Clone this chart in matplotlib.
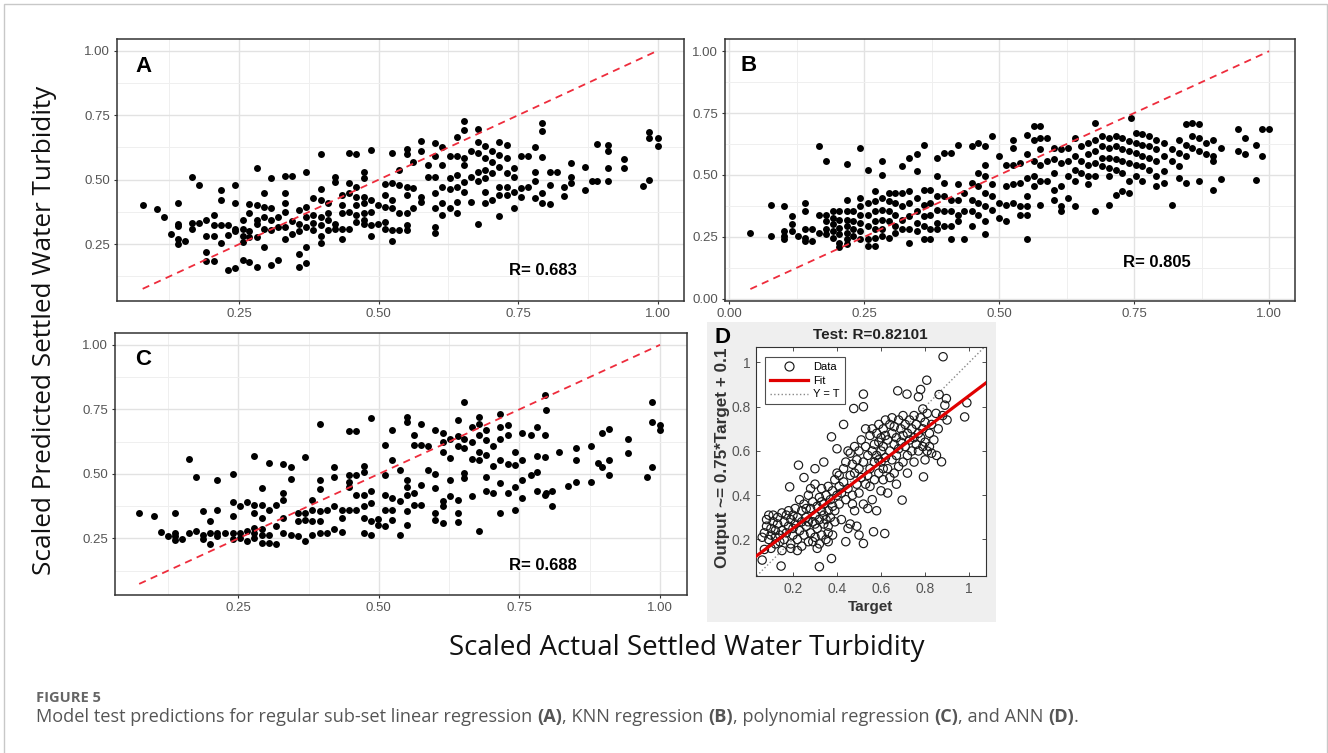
import matplotlib
matplotlib.use("Agg")
import matplotlib.pyplot as plt
import matplotlib.patches as patches
from matplotlib.lines import Line2D
import numpy as np

plt.rcParams['font.family'] = ['Liberation Sans', 'DejaVu Sans']

# ---- data ----
# panel A: regular sub-set linear regression (actual, predicted)
a_pts = [
    (0.077, 0.40), (0.102, 0.385), (0.115, 0.357), (0.128, 0.29),
    (0.14, 0.41), (0.14, 0.33), (0.14, 0.32), (0.14, 0.27), (0.14, 0.25),
    (0.153, 0.264), (0.166, 0.51), (0.166, 0.334), (0.166, 0.31),
    (0.178, 0.48), (0.178, 0.334),
    (0.19, 0.344), (0.19, 0.28), (0.19, 0.22), (0.19, 0.183),
    (0.205, 0.364), (0.205, 0.325), (0.205, 0.28), (0.205, 0.183),
    (0.218, 0.46), (0.218, 0.42), (0.218, 0.325), (0.218, 0.254),
    (0.23, 0.325), (0.23, 0.286), (0.23, 0.15),
    (0.243, 0.48), (0.243, 0.41), (0.243, 0.31), (0.243, 0.30), (0.243, 0.157),
    (0.256, 0.344), (0.256, 0.31), (0.256, 0.28), (0.256, 0.26), (0.256, 0.19),
    (0.268, 0.406), (0.268, 0.37), (0.268, 0.30), (0.268, 0.276), (0.268, 0.18),
    (0.281, 0.545), (0.281, 0.40), (0.281, 0.344), (0.281, 0.33), (0.281, 0.276), (0.281, 0.16),
    (0.294, 0.447), (0.294, 0.396), (0.294, 0.357), (0.294, 0.31), (0.294, 0.24),
    (0.307, 0.505), (0.307, 0.39), (0.307, 0.344), (0.307, 0.305), (0.307, 0.17),
    (0.32, 0.357), (0.32, 0.318), (0.32, 0.19),
    (0.332, 0.515), (0.332, 0.447), (0.332, 0.41), (0.332, 0.376), (0.332, 0.318), (0.332, 0.27),
    (0.345, 0.515), (0.345, 0.34), (0.345, 0.29),
    (0.358, 0.383), (0.358, 0.33), (0.358, 0.30), (0.358, 0.212), (0.358, 0.163),
    (0.37, 0.528), (0.37, 0.396), (0.37, 0.357), (0.37, 0.318), (0.37, 0.24), (0.37, 0.176),
    (0.383, 0.428), (0.383, 0.364), (0.383, 0.334), (0.383, 0.305),
    (0.396, 0.60), (0.396, 0.463), (0.396, 0.42), (0.396, 0.357), (0.396, 0.325), (0.396, 0.28), (0.396, 0.254),
    (0.409, 0.41), (0.409, 0.372), (0.409, 0.344), (0.409, 0.305),
    (0.422, 0.512), (0.422, 0.49), (0.422, 0.33), (0.422, 0.31),
    (0.435, 0.44), (0.435, 0.40), (0.435, 0.37), (0.435, 0.31), (0.435, 0.27),
    (0.447, 0.605), (0.447, 0.486), (0.447, 0.447), (0.447, 0.376), (0.447, 0.31),
    (0.46, 0.60), (0.46, 0.473), (0.46, 0.434), (0.46, 0.40), (0.46, 0.364), (0.46, 0.337),
    (0.473, 0.528), (0.473, 0.505), (0.473, 0.434), (0.473, 0.41), (0.473, 0.372), (0.473, 0.344), (0.473, 0.33),
    (0.486, 0.615), (0.486, 0.42), (0.486, 0.376), (0.486, 0.325), (0.486, 0.282),
    (0.498, 0.40), (0.498, 0.33),
    (0.511, 0.483), (0.511, 0.44), (0.511, 0.396), (0.511, 0.337), (0.511, 0.31),
    (0.524, 0.605), (0.524, 0.486), (0.524, 0.42), (0.524, 0.39), (0.524, 0.305), (0.524, 0.264),
    (0.537, 0.537), (0.537, 0.48), (0.537, 0.37), (0.537, 0.305),
    (0.55, 0.62), (0.55, 0.60), (0.55, 0.473), (0.55, 0.44), (0.55, 0.37), (0.55, 0.325), (0.55, 0.305),
    (0.562, 0.567), (0.562, 0.467), (0.562, 0.39),
    (0.575, 0.65), (0.575, 0.61), (0.575, 0.434), (0.575, 0.415),
    (0.588, 0.557), (0.588, 0.512),
    (0.60, 0.644), (0.60, 0.59), (0.60, 0.512), (0.60, 0.447), (0.60, 0.39), (0.60, 0.315), (0.60, 0.295),
    (0.614, 0.625), (0.614, 0.557), (0.614, 0.473), (0.614, 0.41), (0.614, 0.364),
    (0.627, 0.59), (0.627, 0.505), (0.627, 0.463), (0.627, 0.39),
    (0.64, 0.664), (0.64, 0.59), (0.64, 0.52), (0.64, 0.473), (0.64, 0.415), (0.64, 0.372),
    (0.652, 0.728), (0.652, 0.693), (0.652, 0.583), (0.652, 0.557), (0.652, 0.49), (0.652, 0.454),
    (0.665, 0.61), (0.665, 0.512), (0.665, 0.415),
    (0.678, 0.695), (0.678, 0.647), (0.678, 0.602), (0.678, 0.531), (0.678, 0.493), (0.678, 0.33),
    (0.69, 0.63), (0.69, 0.583), (0.69, 0.537), (0.69, 0.505), (0.69, 0.454), (0.69, 0.41),
    (0.703, 0.61), (0.703, 0.57), (0.703, 0.525), (0.703, 0.42),
    (0.716, 0.647), (0.716, 0.596), (0.716, 0.55), (0.716, 0.473), (0.716, 0.44), (0.716, 0.36),
    (0.729, 0.635), (0.729, 0.583), (0.729, 0.525), (0.729, 0.473), (0.729, 0.44),
    (0.742, 0.545), (0.742, 0.512), (0.742, 0.454), (0.742, 0.39),
    (0.755, 0.59), (0.755, 0.467), (0.755, 0.434),
    (0.767, 0.59), (0.767, 0.473),
    (0.78, 0.625), (0.78, 0.531), (0.78, 0.493), (0.78, 0.428),
    (0.793, 0.721), (0.793, 0.69), (0.793, 0.587), (0.793, 0.447), (0.793, 0.41),
    (0.806, 0.531), (0.806, 0.48), (0.806, 0.406), (0.819, 0.531),
    (0.832, 0.473), (0.832, 0.437), (0.844, 0.564), (0.844, 0.512), (0.844, 0.486),
    (0.87, 0.55), (0.87, 0.46), (0.883, 0.496), (0.892, 0.638), (0.892, 0.496),
    (0.91, 0.635), (0.91, 0.613), (0.91, 0.545), (0.91, 0.493),
    (0.94, 0.58), (0.94, 0.545), (0.973, 0.476),
    (0.985, 0.686), (0.985, 0.66), (0.985, 0.50), (1.0, 0.66), (1.0, 0.63),
]

# panel B: KNN regression
b_pts = [
    (0.039, 0.264), (0.078, 0.378), (0.078, 0.253),
    (0.102, 0.374), (0.102, 0.273), (0.102, 0.253), (0.102, 0.24),
    (0.116, 0.334), (0.116, 0.30), (0.116, 0.273), (0.128, 0.253),
    (0.141, 0.388), (0.141, 0.354), (0.141, 0.28), (0.141, 0.246), (0.141, 0.233),
    (0.154, 0.28), (0.154, 0.233),
    (0.167, 0.616), (0.167, 0.34), (0.167, 0.266),
    (0.18, 0.558), (0.18, 0.34), (0.18, 0.314), (0.18, 0.28), (0.18, 0.26),
    (0.192, 0.354), (0.192, 0.327), (0.192, 0.30), (0.192, 0.273), (0.192, 0.246),
    (0.204, 0.354), (0.204, 0.32), (0.204, 0.287), (0.204, 0.26), (0.204, 0.226), (0.204, 0.21),
    (0.218, 0.546), (0.218, 0.40), (0.218, 0.354), (0.218, 0.32), (0.218, 0.293), (0.218, 0.266), (0.218, 0.24), (0.218, 0.22),
    (0.229, 0.354), (0.229, 0.314), (0.229, 0.28), (0.229, 0.253),
    (0.243, 0.61), (0.243, 0.408), (0.243, 0.374), (0.243, 0.34), (0.243, 0.307), (0.243, 0.273), (0.243, 0.24),
    (0.256, 0.518), (0.256, 0.388), (0.256, 0.34), (0.256, 0.293), (0.256, 0.24), (0.256, 0.213),
    (0.269, 0.435), (0.269, 0.394), (0.269, 0.354), (0.269, 0.314), (0.269, 0.28), (0.269, 0.246), (0.269, 0.213),
    (0.282, 0.556), (0.282, 0.50), (0.282, 0.408), (0.282, 0.36), (0.282, 0.32), (0.282, 0.28), (0.282, 0.253),
    (0.295, 0.428), (0.295, 0.394), (0.295, 0.354), (0.295, 0.314), (0.295, 0.246),
    (0.307, 0.428), (0.307, 0.388), (0.307, 0.34), (0.307, 0.293), (0.307, 0.266),
    (0.32, 0.538), (0.32, 0.428), (0.32, 0.374), (0.32, 0.32), (0.32, 0.28),
    (0.333, 0.57), (0.333, 0.435), (0.333, 0.388), (0.333, 0.334), (0.333, 0.28), (0.333, 0.226),
    (0.347, 0.583), (0.347, 0.515), (0.347, 0.408), (0.347, 0.354), (0.347, 0.307), (0.347, 0.273),
    (0.36, 0.623), (0.36, 0.44), (0.36, 0.38), (0.36, 0.334), (0.36, 0.293), (0.36, 0.24),
    (0.372, 0.44), (0.372, 0.388), (0.372, 0.34), (0.372, 0.28), (0.372, 0.24),
    (0.385, 0.57), (0.385, 0.495), (0.385, 0.415), (0.385, 0.36), (0.385, 0.307), (0.385, 0.28),
    (0.397, 0.59), (0.397, 0.468), (0.397, 0.415), (0.397, 0.354), (0.397, 0.293),
    (0.411, 0.59), (0.411, 0.40), (0.411, 0.354), (0.411, 0.293), (0.411, 0.24),
    (0.424, 0.623), (0.424, 0.462), (0.424, 0.40), (0.424, 0.34), (0.424, 0.314),
    (0.435, 0.428), (0.435, 0.354), (0.435, 0.24),
    (0.449, 0.616), (0.449, 0.468), (0.449, 0.40), (0.449, 0.354), (0.449, 0.293),
    (0.461, 0.63), (0.461, 0.509), (0.461, 0.455), (0.461, 0.388), (0.461, 0.34),
    (0.474, 0.616), (0.474, 0.542), (0.474, 0.495), (0.474, 0.428), (0.474, 0.374), (0.474, 0.314), (0.474, 0.26),
    (0.487, 0.657), (0.487, 0.462), (0.487, 0.415), (0.487, 0.36),
    (0.50, 0.576), (0.50, 0.388), (0.50, 0.327),
    (0.513, 0.542), (0.513, 0.455), (0.513, 0.38), (0.513, 0.314),
    (0.526, 0.643), (0.526, 0.61), (0.526, 0.542), (0.526, 0.462), (0.526, 0.388),
    (0.538, 0.55), (0.538, 0.468), (0.538, 0.374), (0.538, 0.34),
    (0.551, 0.66), (0.551, 0.583), (0.551, 0.488), (0.551, 0.415), (0.551, 0.374), (0.551, 0.337), (0.551, 0.24),
    (0.564, 0.697), (0.564, 0.643), (0.564, 0.556), (0.564, 0.495), (0.564, 0.455),
    (0.576, 0.697), (0.576, 0.65), (0.576, 0.603), (0.576, 0.542), (0.576, 0.475), (0.576, 0.38),
    (0.589, 0.65), (0.589, 0.556), (0.589, 0.475),
    (0.602, 0.61), (0.602, 0.563), (0.602, 0.509), (0.602, 0.44), (0.602, 0.40),
    (0.614, 0.603), (0.614, 0.55), (0.614, 0.455), (0.614, 0.374), (0.614, 0.354),
    (0.627, 0.61), (0.627, 0.556), (0.627, 0.495), (0.627, 0.408),
    (0.64, 0.65), (0.64, 0.576), (0.64, 0.522), (0.64, 0.475), (0.64, 0.374),
    (0.652, 0.616), (0.652, 0.556), (0.652, 0.509),
    (0.665, 0.63), (0.665, 0.583), (0.665, 0.542), (0.665, 0.495), (0.665, 0.462),
    (0.677, 0.71), (0.677, 0.643), (0.677, 0.596), (0.677, 0.55), (0.677, 0.495), (0.677, 0.354),
    (0.69, 0.657), (0.69, 0.616), (0.69, 0.57), (0.69, 0.536),
    (0.703, 0.65), (0.703, 0.61), (0.703, 0.57), (0.703, 0.529), (0.703, 0.495), (0.703, 0.38),
    (0.716, 0.657), (0.716, 0.616), (0.716, 0.563), (0.716, 0.522), (0.716, 0.42),
    (0.728, 0.65), (0.728, 0.603), (0.728, 0.556), (0.728, 0.509), (0.728, 0.435),
    (0.74, 0.637), (0.74, 0.596), (0.74, 0.55), (0.74, 0.475), (0.74, 0.428), (0.744, 0.73),
    (0.753, 0.67), (0.753, 0.63), (0.753, 0.59), (0.753, 0.542), (0.753, 0.495),
    (0.765, 0.664), (0.765, 0.623), (0.765, 0.576), (0.765, 0.536), (0.765, 0.475),
    (0.778, 0.657), (0.778, 0.616), (0.778, 0.57), (0.778, 0.522),
    (0.791, 0.643), (0.791, 0.603), (0.791, 0.556), (0.791, 0.495), (0.791, 0.455),
    (0.805, 0.63), (0.805, 0.576), (0.805, 0.515), (0.805, 0.466),
    (0.82, 0.603), (0.82, 0.556), (0.82, 0.38),
    (0.833, 0.643), (0.833, 0.59), (0.833, 0.536), (0.833, 0.488),
    (0.846, 0.704), (0.846, 0.623), (0.846, 0.576), (0.846, 0.468),
    (0.858, 0.71), (0.858, 0.657), (0.858, 0.61),
    (0.871, 0.704), (0.871, 0.65), (0.871, 0.596), (0.871, 0.475),
    (0.884, 0.63), (0.884, 0.583),
    (0.897, 0.643), (0.897, 0.576), (0.897, 0.556), (0.897, 0.44),
    (0.911, 0.61), (0.911, 0.482),
    (0.942, 0.686), (0.942, 0.596), (0.955, 0.65), (0.955, 0.583),
    (0.975, 0.623), (0.975, 0.479), (0.986, 0.684), (0.986, 0.576), (1.0, 0.686),
]

# panel C: polynomial regression
c_pts = [
    (0.074, 0.35), (0.10, 0.338), (0.113, 0.275), (0.125, 0.26),
    (0.137, 0.35), (0.137, 0.27), (0.137, 0.26), (0.137, 0.245),
    (0.15, 0.246), (0.162, 0.556), (0.162, 0.27), (0.175, 0.49), (0.175, 0.28),
    (0.188, 0.355), (0.188, 0.265), (0.188, 0.246),
    (0.20, 0.317), (0.20, 0.27), (0.20, 0.227),
    (0.213, 0.475), (0.213, 0.36), (0.213, 0.27), (0.213, 0.26), (0.227, 0.27),
    (0.24, 0.50), (0.24, 0.39), (0.24, 0.338), (0.24, 0.27), (0.24, 0.246),
    (0.253, 0.375), (0.253, 0.27), (0.253, 0.252),
    (0.266, 0.39), (0.266, 0.28), (0.266, 0.24),
    (0.278, 0.57), (0.278, 0.38), (0.278, 0.35), (0.278, 0.29), (0.278, 0.27), (0.278, 0.252),
    (0.292, 0.445), (0.292, 0.38), (0.292, 0.33), (0.292, 0.285), (0.292, 0.265), (0.292, 0.233),
    (0.304, 0.544), (0.304, 0.36), (0.304, 0.265), (0.304, 0.233),
    (0.317, 0.38), (0.317, 0.297), (0.317, 0.23),
    (0.33, 0.54), (0.33, 0.425), (0.33, 0.40), (0.33, 0.33), (0.33, 0.27),
    (0.343, 0.525), (0.343, 0.48), (0.343, 0.265),
    (0.356, 0.35), (0.356, 0.317), (0.356, 0.26),
    (0.369, 0.565), (0.369, 0.35), (0.369, 0.32), (0.369, 0.24),
    (0.382, 0.40), (0.382, 0.36), (0.382, 0.317), (0.382, 0.265),
    (0.395, 0.695), (0.395, 0.475), (0.395, 0.44), (0.395, 0.355), (0.395, 0.317), (0.395, 0.27),
    (0.408, 0.36), (0.408, 0.27),
    (0.421, 0.528), (0.421, 0.49), (0.421, 0.375), (0.421, 0.285),
    (0.434, 0.36), (0.434, 0.33), (0.434, 0.274),
    (0.447, 0.667), (0.447, 0.497), (0.447, 0.47), (0.447, 0.45), (0.447, 0.36),
    (0.46, 0.667), (0.46, 0.497), (0.46, 0.42), (0.46, 0.36),
    (0.473, 0.53), (0.473, 0.508), (0.473, 0.42), (0.473, 0.375), (0.473, 0.33), (0.473, 0.27),
    (0.486, 0.718), (0.486, 0.432), (0.486, 0.387), (0.486, 0.317), (0.486, 0.265),
    (0.498, 0.325), (0.498, 0.304),
    (0.511, 0.611), (0.511, 0.497), (0.511, 0.42), (0.511, 0.36), (0.511, 0.297),
    (0.524, 0.672), (0.524, 0.554), (0.524, 0.406), (0.524, 0.36), (0.524, 0.32),
    (0.537, 0.515), (0.537, 0.394), (0.537, 0.265),
    (0.55, 0.72), (0.55, 0.70), (0.55, 0.477), (0.55, 0.45), (0.55, 0.42), (0.55, 0.355), (0.55, 0.304),
    (0.562, 0.65), (0.562, 0.611), (0.562, 0.425), (0.562, 0.38),
    (0.575, 0.695), (0.575, 0.611), (0.575, 0.457), (0.575, 0.38),
    (0.588, 0.607), (0.588, 0.515),
    (0.60, 0.672), (0.60, 0.50), (0.60, 0.445), (0.60, 0.35), (0.60, 0.32),
    (0.614, 0.657), (0.614, 0.625), (0.614, 0.586), (0.614, 0.394), (0.614, 0.375), (0.614, 0.31),
    (0.627, 0.637), (0.627, 0.56), (0.627, 0.477), (0.627, 0.413),
    (0.64, 0.71), (0.64, 0.645), (0.64, 0.607), (0.64, 0.40), (0.64, 0.35), (0.64, 0.313),
    (0.652, 0.778), (0.652, 0.637), (0.652, 0.60), (0.652, 0.505), (0.652, 0.483),
    (0.665, 0.682), (0.665, 0.625), (0.665, 0.556), (0.665, 0.413),
    (0.678, 0.72), (0.678, 0.695), (0.678, 0.65), (0.678, 0.586), (0.678, 0.554), (0.678, 0.277),
    (0.69, 0.67), (0.69, 0.63), (0.69, 0.573), (0.69, 0.49), (0.69, 0.432),
    (0.703, 0.607), (0.703, 0.53), (0.703, 0.425),
    (0.716, 0.733), (0.716, 0.682), (0.716, 0.637), (0.716, 0.554), (0.716, 0.464), (0.716, 0.35),
    (0.729, 0.688), (0.729, 0.65), (0.729, 0.54), (0.729, 0.425),
    (0.742, 0.586), (0.742, 0.535), (0.742, 0.45), (0.742, 0.36),
    (0.755, 0.657), (0.755, 0.554), (0.755, 0.477), (0.755, 0.406),
    (0.77, 0.65), (0.77, 0.497),
    (0.782, 0.682), (0.782, 0.57), (0.782, 0.508), (0.782, 0.432),
    (0.795, 0.804), (0.795, 0.65), (0.795, 0.567), (0.795, 0.42),
    (0.797, 0.746), (0.797, 0.425), (0.808, 0.432), (0.808, 0.377),
    (0.82, 0.586), (0.836, 0.454),
    (0.85, 0.60), (0.85, 0.554), (0.85, 0.47),
    (0.877, 0.607), (0.877, 0.47), (0.89, 0.544), (0.897, 0.657), (0.897, 0.528),
    (0.91, 0.675), (0.91, 0.554), (0.91, 0.497),
    (0.943, 0.637), (0.943, 0.58), (0.976, 0.49),
    (0.985, 0.778), (0.985, 0.70), (0.985, 0.528), (1.0, 0.688), (1.0, 0.67),
]

# panel D: ANN (target, output)
d_pts = [
    (0.06, 0.21), (0.07, 0.23), (0.08, 0.26), (0.08, 0.29), (0.09, 0.31), (0.09, 0.20),
    (0.10, 0.22), (0.10, 0.25), (0.11, 0.28), (0.11, 0.31), (0.12, 0.18), (0.12, 0.21),
    (0.12, 0.24), (0.13, 0.30), (0.13, 0.27), (0.14, 0.22), (0.14, 0.19), (0.15, 0.24),
    (0.15, 0.32), (0.15, 0.15), (0.06, 0.107), (0.146, 0.08), (0.07, 0.155), (0.10, 0.16),
    (0.16, 0.28), (0.16, 0.20), (0.17, 0.31), (0.17, 0.23), (0.18, 0.26), (0.18, 0.33),
    (0.185, 0.438), (0.19, 0.18), (0.19, 0.29), (0.20, 0.22), (0.20, 0.31), (0.20, 0.25),
    (0.21, 0.27), (0.21, 0.34), (0.22, 0.20), (0.22, 0.30), (0.225, 0.536), (0.23, 0.24),
    (0.23, 0.38), (0.24, 0.28), (0.24, 0.33), (0.24, 0.17), (0.25, 0.22), (0.25, 0.36),
    (0.25, 0.48), (0.19, 0.16), (0.22, 0.15),
    (0.26, 0.30), (0.26, 0.26), (0.27, 0.40), (0.27, 0.19), (0.28, 0.34), (0.28, 0.23),
    (0.28, 0.43), (0.29, 0.28), (0.29, 0.37), (0.30, 0.31), (0.30, 0.21), (0.30, 0.45),
    (0.30, 0.52), (0.31, 0.25), (0.31, 0.35), (0.31, 0.16), (0.32, 0.29), (0.32, 0.39),
    (0.32, 0.077), (0.33, 0.33), (0.33, 0.22), (0.33, 0.43), (0.34, 0.27), (0.34, 0.36),
    (0.34, 0.31), (0.34, 0.55), (0.35, 0.40), (0.35, 0.20), (0.35, 0.29), (0.26, 0.34),
    (0.27, 0.28), (0.29, 0.19), (0.32, 0.18), (0.33, 0.37), (0.30, 0.27),
    (0.36, 0.33), (0.36, 0.26), (0.36, 0.19), (0.36, 0.44), (0.37, 0.38), (0.37, 0.30),
    (0.375, 0.664), (0.375, 0.114), (0.38, 0.35), (0.38, 0.42), (0.38, 0.22), (0.39, 0.47),
    (0.39, 0.33), (0.40, 0.40), (0.40, 0.50), (0.40, 0.61), (0.41, 0.36), (0.41, 0.44),
    (0.42, 0.41), (0.42, 0.29), (0.43, 0.46), (0.43, 0.72), (0.43, 0.52), (0.44, 0.38),
    (0.44, 0.55), (0.44, 0.19), (0.45, 0.43), (0.45, 0.60), (0.45, 0.25), (0.36, 0.23),
    (0.39, 0.28), (0.41, 0.49),
    (0.46, 0.49), (0.46, 0.59), (0.46, 0.27), (0.47, 0.40), (0.47, 0.54), (0.476, 0.792),
    (0.48, 0.50), (0.48, 0.62), (0.48, 0.33), (0.49, 0.45), (0.49, 0.56), (0.50, 0.52),
    (0.50, 0.60), (0.50, 0.22), (0.50, 0.41), (0.51, 0.48), (0.51, 0.65), (0.52, 0.857),
    (0.52, 0.80), (0.52, 0.55), (0.52, 0.36), (0.53, 0.62), (0.53, 0.45), (0.53, 0.70),
    (0.54, 0.58), (0.54, 0.49), (0.54, 0.34), (0.55, 0.67), (0.55, 0.52), (0.55, 0.44),
    (0.52, 0.182), (0.47, 0.36), (0.49, 0.26),
    (0.56, 0.60), (0.56, 0.70), (0.56, 0.38), (0.566, 0.235), (0.57, 0.63), (0.57, 0.55),
    (0.57, 0.47), (0.58, 0.68), (0.58, 0.58), (0.58, 0.33), (0.59, 0.72), (0.59, 0.64),
    (0.59, 0.50), (0.60, 0.66), (0.60, 0.60), (0.60, 0.55), (0.60, 0.42), (0.61, 0.70),
    (0.61, 0.62), (0.61, 0.47), (0.617, 0.227), (0.62, 0.74), (0.62, 0.67), (0.62, 0.57),
    (0.63, 0.65), (0.63, 0.52), (0.63, 0.41), (0.64, 0.72), (0.64, 0.60), (0.64, 0.48),
    (0.65, 0.68), (0.65, 0.56), (0.65, 0.75), (0.61, 0.52), (0.59, 0.56),
    (0.66, 0.63), (0.66, 0.71), (0.66, 0.50), (0.67, 0.66), (0.67, 0.58), (0.676, 0.872),
    (0.68, 0.74), (0.68, 0.61), (0.68, 0.53), (0.69, 0.70), (0.69, 0.64), (0.696, 0.378),
    (0.70, 0.76), (0.70, 0.67), (0.70, 0.55), (0.71, 0.62), (0.71, 0.72), (0.718, 0.857),
    (0.72, 0.68), (0.72, 0.58), (0.73, 0.74), (0.73, 0.65), (0.74, 0.70), (0.74, 0.60),
    (0.75, 0.76), (0.75, 0.66), (0.75, 0.55), (0.67, 0.45), (0.72, 0.50),
    (0.76, 0.72), (0.76, 0.63), (0.77, 0.845), (0.77, 0.68), (0.77, 0.60), (0.78, 0.878),
    (0.78, 0.75), (0.78, 0.66), (0.79, 0.79), (0.79, 0.70), (0.79, 0.62), (0.793, 0.483),
    (0.80, 0.73), (0.80, 0.64), (0.80, 0.56), (0.808, 0.92), (0.81, 0.77), (0.81, 0.60),
    (0.82, 0.68), (0.82, 0.62), (0.83, 0.72), (0.83, 0.59), (0.84, 0.65), (0.85, 0.77),
    (0.852, 0.58), (0.86, 0.70), (0.864, 0.855), (0.875, 0.551), (0.88, 0.76),
    (0.882, 1.026), (0.89, 0.807), (0.897, 0.837), (0.90, 0.74), (0.98, 0.754), (0.99, 0.818),
]

r_values = {"A": "0.683", "B": "0.805", "C": "0.688"}
ann_r = "0.82101"
fit_slope, fit_icpt = 0.75, 0.1

W, H = 1328, 753
fig = plt.figure(figsize=(W / 100, H / 100), dpi=100)


def px_rect(l, t, r, b):
    return [l / W, 1 - b / H, (r - l) / W, (b - t) / H]


def fx(x):
    return x / W


def fy(y):
    return 1 - y / H


# light frame round the whole figure
fig.patches.append(patches.Rectangle((fx(4), -0.01), fx(1326.5) - fx(4), fy(4) + 0.01,
                                     transform=fig.transFigure, fill=False,
                                     edgecolor='#c8c8c8', lw=1.0, zorder=-2))
# grey matlab background behind panel D
fig.patches.append(patches.Rectangle((fx(707), fy(622)), fx(996) - fx(707), fy(322) - fy(622),
                                     transform=fig.transFigure, facecolor='#efefef',
                                     edgecolor='none', zorder=-1))


def gg_panel(ax, pts, lims, majors, letter, rtxt, letter_xy, r_xy):
    xs = [p[0] for p in pts]
    ys = [p[1] for p in pts]
    ax.set_xlim(lims)
    ax.set_ylim(lims)
    ax.set_xticks(majors)
    ax.set_yticks(majors)
    ax.set_xticklabels([f"{v:.2f}" for v in majors])
    ax.set_yticklabels([f"{v:.2f}" for v in majors])
    minors = [m + 0.125 for m in majors[:-1]]
    if majors[0] > 0.1:
        minors = [majors[0] - 0.125] + minors
    ax.set_xticks(minors, minor=True)
    ax.set_yticks(minors, minor=True)
    ax.grid(which='major', color='#e2e2e2', lw=1.0)
    ax.grid(which='minor', color='#efefef', lw=0.7)
    ax.set_axisbelow(True)
    ax.tick_params(which='minor', length=0)
    ax.tick_params(which='major', length=2.5, width=0.8, color='#333333',
                   labelcolor='#555555', labelsize=9.5, pad=2.5)
    for s in ax.spines.values():
        s.set_color('#333333')
        s.set_linewidth(1.1)
    ax.scatter(xs, ys, s=25, c='black', linewidths=0, zorder=2)
    lo, hi = min(xs), max(xs)
    ax.plot([lo, hi], [lo, hi], color='#ee2c3c', ls=(0, (4, 3)), lw=1.3, zorder=3)
    ax.text(letter_xy[0], letter_xy[1], letter, transform=ax.transAxes,
            fontsize=16, fontweight='bold', ha='center', va='center')
    ax.text(r_xy[0], r_xy[1], "R= " + rtxt, transform=ax.transAxes,
            fontsize=12, fontweight='bold', ha='left', va='center')


axA = fig.add_axes(px_rect(117, 38.5, 684, 300.7))
gg_panel(axA, a_pts, (0.031, 1.047), [0.25, 0.5, 0.75, 1.0], "A", r_values["A"],
         (0.047, 0.892), (0.691, 0.117))

axB = fig.add_axes(px_rect(725, 39.3, 1295, 300.7))
gg_panel(axB, b_pts, (-0.008, 1.048), [0.0, 0.25, 0.5, 0.75, 1.0], "B", r_values["B"],
         (0.042, 0.898), (0.698, 0.147))

axC = fig.add_axes(px_rect(115, 332.7, 686.5, 595))
gg_panel(axC, c_pts, (0.031, 1.047), [0.25, 0.5, 0.75, 1.0], "C", r_values["C"],
         (0.05, 0.899), (0.689, 0.111))

# panel D, matlab style regression plot
axD = fig.add_axes(px_rect(756, 347, 986, 576))
dxl = (0.032, 1.077)
axD.set_xlim(dxl)
axD.set_ylim(0.035, 1.07)
axD.set_facecolor('white')
dx = [p[0] for p in d_pts]
dy = [p[1] for p in d_pts]
axD.scatter(dx, dy, s=36, facecolors='none', edgecolors='#1a1a1a', linewidths=0.85, zorder=2)
fx_line = np.array(dxl)
axD.plot(fx_line, fit_slope * fx_line + fit_icpt, color='#e00000', lw=2.3, zorder=3)
axD.plot([0, 1.1], [0, 1.1], color='#888888', ls=':', lw=1.0, zorder=1)
axD.set_xticks([0.2, 0.4, 0.6, 0.8, 1.0])
axD.set_xticklabels(["0.2", "0.4", "0.6", "0.8", "1"])
axD.set_yticks([0.2, 0.4, 0.6, 0.8, 1.0])
axD.set_yticklabels(["0.2", "0.4", "0.6", "0.8", "1"])
axD.tick_params(direction='in', top=True, right=True, length=3, width=0.6,
                color='#333333', labelcolor='#555555', labelsize=10, pad=4)
for s in axD.spines.values():
    s.set_color('#333333')
    s.set_linewidth(0.8)
handles = [Line2D([], [], ls='none', marker='o', mfc='none', mec='#1a1a1a', ms=6.5, mew=0.85),
           Line2D([], [], color='#e00000', lw=2.3),
           Line2D([], [], color='#888888', ls=':', lw=1.0)]
leg = axD.legend(handles, ["Data", "Fit", "Y = T"], loc='upper left',
                 bbox_to_anchor=(0.038, 0.958), fontsize=8, fancybox=False,
                 handlelength=3.4, borderpad=0.45, labelspacing=0.35, handletextpad=0.5,
                 borderaxespad=0)
leg.get_frame().set_edgecolor('#222222')
leg.get_frame().set_linewidth(0.8)

fig.text(fx(722), fy(337), "D", fontsize=16, fontweight='bold', ha='center', va='center')
fig.text(fx(870), fy(335), "Test: R=" + ann_r, fontsize=11, fontweight='bold',
         color='#222222', ha='center', va='center')
fig.text(fx(870), fy(607), "Target", fontsize=11, fontweight='bold',
         color='#333333', ha='center', va='center')
fig.text(fx(722), fy(458), "Output ~= 0.75*Target + 0.1", fontsize=12.3, fontweight='bold',
         color='#333333', ha='center', va='center', rotation=90)

# shared axis titles
fig.text(fx(45), fy(330), "Scaled Predicted Settled Water Turbidity", family='Open Sans',
         fontsize=18.8, ha='center', va='center', rotation=90, color='#111111')
fig.text(fx(687), fy(648), "Scaled Actual Settled Water Turbidity", family='Open Sans',
         fontsize=20, ha='center', va='center', color='#111111')

# caption
fig.text(fx(36), fy(698), "FIGURE 5", family='Open Sans', fontweight='bold', fontsize=10.5,
         color='#666666', ha='left', va='center')
runs = [("Model test predictions for regular sub-set linear regression ", 'normal'),
        ("(A)", 'bold'), (", KNN regression ", 'normal'), ("(B)", 'bold'),
        (", polynomial regression ", 'normal'), ("(C)", 'bold'),
        (", and ANN ", 'normal'), ("(D)", 'bold'), (".", 'normal')]
renderer = fig.canvas.get_renderer()
xpos = 36
for txt, wt in runs:
    t = fig.text(fx(xpos), fy(717), txt, family='Open Sans', fontweight=wt, fontsize=13.1,
                 color='#555555', ha='left', va='center')
    xpos += t.get_window_extent(renderer).width

fig.savefig("out.png", dpi=100)
